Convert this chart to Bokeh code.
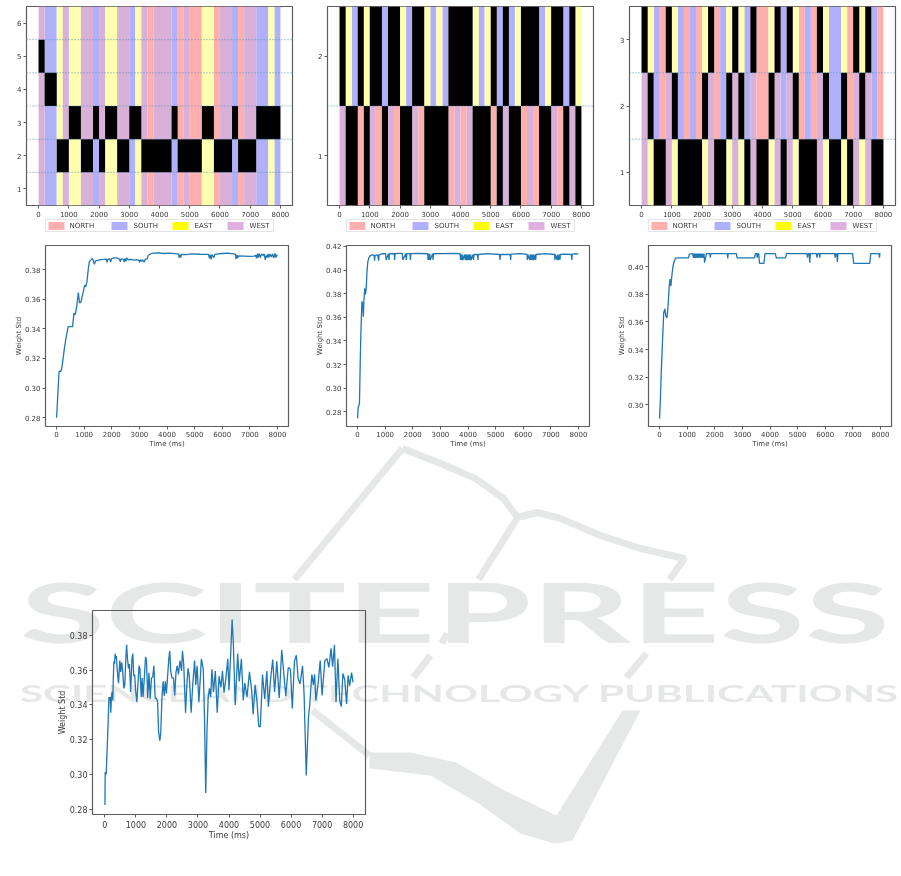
from bokeh.embed import file_html
from bokeh.resources import INLINE
from bokeh.plotting import figure
from bokeh.layouts import column
from bokeh.models import Span, FixedTicker, ColumnDataSource, NumeralTickFormatter
from bokeh.core.properties import value

DIRECTIONS = ["NORTH", "SOUTH", "EAST", "WEST"]
BAR_COLORS = {"NORTH": "#ffb0ae", "SOUTH": "#b0b0fb", "EAST": "#ffffb0", "WEST": "#d8b0d8"}
LEGEND_COLORS = {"NORTH": "#ffb0ae", "SOUTH": "#b0b0ff", "EAST": "#ffff00", "WEST": "#dfb0df"}
STEP_MS = 200
TIME_TICKS = [0, 1000, 2000, 3000, 4000, 5000, 6000, 7000, 8000]

dirs_a = list("WSSEWEEWWSWEEWWSEWNWWWSNWNNEENWWSNWWSSES")
active_a = [5,4,4,2,2,3,3,2,2,3,2,3,3,2,2,3,3,2,2,2,2,2,3,2,2,2,2,3,3,2,2,2,3,2,2,2,3,3,3,3]
rows_a = 6

dirs_b = list("WESNEWNSWNESWNESESNWNWESENSWSENWNSEWNSWE")
active_b = [2,1,1,2,1,2,2,1,2,2,1,1,2,2,1,1,1,1,2,2,2,2,1,1,1,2,1,2,1,1,2,2,2,1,1,2,2,1,2,1]
rows_b = 2

dirs_c = list("WESNWESNSNEWNSEWESWNNEWSWENSNWESSENWEWSN")
active_c = [3,2,1,1,3,2,1,1,1,1,2,3,1,1,2,3,2,1,3,1,1,2,3,1,3,2,1,1,1,3,2,1,1,2,1,3,2,3,1,1]
rows_c = 3

t1 = [0,30,60,90,120,150,190,230,290,350,420,500,580,630,680,740,790,830,880,950,1020,1060,1100,1150,1190,1250,1300,1340,1370,1420,1500,1600,1700,1810,1830,1850,1930,1960,1990,2080,2200,2280,2310,2340,2430,2450,2480,2510,2540,2600,2700,2800,2900,2980,3010,3040,3090,3120,3180,3210,3280,3320,3400,3500,3700,3900,4100,4350,4420,4440,4470,4500,4530,4700,4900,5200,5500,5540,5570,5600,5630,5700,5730,5850,6000,6200,6400,6480,6500,6530,6560,6590,6800,7000,7150,7220,7240,7270,7300,7330,7380,7420,7480,7520,7560,7590,7620,7660,7690,7730,7780,7820,7870,7910,7950,7990]
v1 = [.2800,.2900,.3005,.3110,.3115,.3110,.3135,.3190,.3275,.3345,.3415,.3415,.3415,.3505,.3495,.3565,.3645,.3575,.3580,.3635,.3695,.3685,.3715,.3805,.3855,.3865,.3875,.3855,.3835,.3860,.3862,.3867,.3868,.3870,.3846,.3868,.3872,.3850,.3872,.3878,.3878,.3870,.3852,.3872,.3868,.3850,.3875,.3855,.3878,.3866,.3868,.3864,.3866,.3862,.3848,.3866,.3855,.3865,.3850,.3870,.3872,.3895,.3905,.3910,.3912,.3908,.3910,.3905,.3905,.3878,.3900,.3882,.3902,.3900,.3905,.3903,.3902,.3875,.3900,.3868,.3900,.3880,.3902,.3905,.3908,.3910,.3905,.3903,.3872,.3898,.3878,.3892,.3890,.3888,.3890,.3895,.3875,.3905,.3880,.3908,.3880,.3905,.3895,.3905,.3865,.3895,.3880,.3905,.3880,.3905,.3885,.3905,.3878,.3908,.3880,.3902]

t2 = [0,20,50,70,100,120,140,160,190,210,230,260,290,320,340,370,410,470,550,600,617,635,730,762,780,900,1017,1035,1120,1138,1155,1330,1344,1360,1500,1622,1640,1750,1767,1785,1900,1913,1930,2200,2540,2554,2570,2600,2615,2630,2720,2736,2750,3100,3500,3715,3729,3745,3785,3800,3815,3885,3900,3915,3955,3970,3985,4015,4030,4045,4085,4100,4115,4185,4200,4215,4345,4360,4375,4700,5140,5157,5175,5530,5545,5560,5900,6135,6150,6165,6235,6250,6265,6285,6300,6315,6355,6370,6385,6435,6450,6465,6800,7135,7150,7165,7235,7250,7265,7315,7330,7345,7500,7745,7760,7775,7900,8000]
v2 = [.2745,.2835,.2855,.2875,.3260,.3450,.3605,.3735,.3705,.3605,.3745,.3845,.3795,.3865,.3985,.4065,.4105,.4125,.4128,.4125,.4080,.4125,.4128,.4080,.4130,.4138,.4138,.4085,.4138,.4085,.4138,.4140,.4085,.4140,.4142,.4142,.4085,.4140,.4085,.4140,.4140,.4085,.4140,.4142,.4138,.4085,.4138,.4085,.4138,.4085,.4138,.4085,.4138,.4140,.4142,.4138,.4085,.4132,.4085,.4132,.4085,.4132,.4085,.4132,.4085,.4132,.4085,.4132,.4085,.4132,.4085,.4132,.4085,.4132,.4085,.4132,.4132,.4085,.4132,.4140,.4132,.4085,.4132,.4132,.4085,.4135,.4140,.4132,.4085,.4132,.4085,.4132,.4085,.4132,.4085,.4132,.4085,.4132,.4085,.4132,.4085,.4132,.4140,.4132,.4085,.4132,.4085,.4132,.4085,.4132,.4085,.4132,.4135,.4132,.4085,.4135,.4140,.4135]

t3 = [0,30,60,90,120,150,190,230,270,310,350,380,410,440,480,530,580,700,850,1050,1080,1200,1230,1250,1270,1300,1320,1350,1370,1400,1420,1450,1470,1500,1520,1550,1570,1610,1630,1700,1825,1840,1855,2300,2455,2470,2485,2780,2810,3100,3440,3470,3520,3540,3560,3590,3620,3780,3820,4190,4230,4560,4600,5000,5340,5360,5380,5420,5440,5460,5680,5700,5720,5780,5800,5820,6340,6360,6380,6420,6440,6460,6960,6990,7030,7610,7650,7900,7950,7965,7980,8000]
v3 = [.2900,.3040,.3225,.3380,.3520,.3665,.3695,.3640,.3630,.3720,.3860,.3910,.3860,.3925,.3995,.4040,.4062,.4065,.4065,.4065,.4092,.4095,.4065,.4095,.4065,.4095,.4065,.4095,.4065,.4095,.4065,.4095,.4065,.4095,.4065,.4095,.4065,.4095,.4030,.4095,.4095,.4065,.4095,.4095,.4095,.4060,.4095,.4095,.4065,.4065,.4065,.4095,.4095,.4065,.4095,.4095,.4025,.4025,.4095,.4095,.4065,.4065,.4095,.4095,.4095,.4065,.4095,.4095,.4030,.4095,.4095,.4065,.4095,.4095,.4065,.4095,.4095,.4065,.4095,.4095,.4035,.4095,.4095,.4095,.4025,.4025,.4095,.4095,.4095,.4065,.4095,.4095]

t4 = [0,10,40,80,110,130,150,170,190,210,235,255,270,290,310,330,350,370,390,420,440,480,510,540,570,610,640,670,700,730,760,790,830,870,900,930,960,990,1030,1060,1100,1130,1170,1200,1230,1270,1310,1340,1380,1420,1460,1500,1540,1580,1620,1660,1700,1730,1770,1800,1840,1880,1910,1950,1980,2010,2060,2090,2120,2160,2210,2250,2290,2330,2370,2420,2470,2500,2540,2600,2640,2680,2720,2780,2830,2890,2930,2970,3030,3110,3170,3210,3250,3290,3330,3370,3410,3450,3500,3560,3620,3680,3740,3790,3840,3900,3960,4000,4060,4100,4140,4200,4280,4330,4400,4460,4510,4580,4660,4730,4780,4840,4900,4960,5010,5080,5150,5220,5270,5350,5410,5470,5540,5620,5700,5770,5830,5910,5980,6040,6110,6170,6230,6290,6370,6420,6490,6560,6600,6670,6720,6760,6800,6880,6940,7000,7090,7160,7220,7290,7340,7400,7450,7510,7570,7620,7670,7730,7790,7840,7890,7950,8000]
v4 = [.2825,.3015,.3000,.3180,.3330,.3445,.3425,.3445,.3355,.3450,.3475,.3425,.3550,.3650,.3635,.3695,.3665,.3680,.3620,.3555,.3525,.3655,.3590,.3645,.3600,.3495,.3515,.3650,.3745,.3660,.3610,.3635,.3475,.3660,.3695,.3565,.3575,.3485,.3415,.3505,.3625,.3605,.3445,.3555,.3445,.3555,.3675,.3655,.3440,.3585,.3435,.3555,.3560,.3625,.3435,.3440,.3415,.3245,.3195,.3235,.3455,.3535,.3450,.3535,.3465,.3535,.3665,.3710,.3595,.3555,.3555,.3455,.3585,.3625,.3575,.3655,.3595,.3710,.3635,.3355,.3510,.3610,.3565,.3355,.3515,.3655,.3515,.3625,.3415,.3665,.3605,.3335,.2895,.3250,.3445,.3495,.3445,.3605,.3475,.3595,.3355,.3565,.3500,.3595,.3470,.3555,.3665,.3485,.3715,.3890,.3755,.3400,.3695,.3535,.3665,.3425,.3525,.3445,.3590,.3485,.3345,.3515,.3425,.3275,.3275,.3575,.3435,.3595,.3390,.3565,.3660,.3475,.3650,.3440,.3715,.3575,.3450,.3615,.3605,.3380,.3650,.3685,.3550,.3520,.3625,.3465,.2995,.3325,.3395,.3575,.3515,.3575,.3425,.3535,.3655,.3455,.3655,.3665,.3615,.3725,.3620,.3745,.3415,.3665,.3425,.3390,.3580,.3545,.3405,.3570,.3510,.3585,.3530]

FONT = "DejaVu Sans"
INK = "#3a3a3a"
FRAME = "#5c5c5c"
WATERMARK = "#e6e8e7"


def place(fig, left, top, blur=True):
    styles = {"position": "absolute", "left": f"{left}px", "top": f"{top}px"}
    if blur:
        styles["filter"] = "blur(0.45px)"
    fig.styles = styles
    return fig


def chart(box, xr, yr, yticks, fmt_size="7px", mb=28):
    l, t, r, b = box
    ml, mt, mr = 44, 4, 6
    p = figure(width=r - l + ml + mr, height=b - t + mt + mb, x_range=xr, y_range=yr,
               output_backend="svg", toolbar_location=None, frame_align=False,
               min_border_left=ml, min_border_top=mt, min_border_right=mr, min_border_bottom=mb,
               background_fill_alpha=0, border_fill_alpha=0)
    place(p, l - ml, t - mt)
    p.grid.visible = False
    p.outline_line_color = FRAME
    p.outline_line_width = 1.2
    for ax in (p.xaxis[0], p.yaxis[0]):
        ax.axis_line_color = None
        ax.major_tick_in = 0
        ax.major_tick_out = 3
        ax.major_tick_line_color = FRAME
        ax.minor_tick_line_color = None
        ax.major_label_text_font = FONT
        ax.major_label_text_font_size = fmt_size
        ax.major_label_text_color = INK
        ax.major_label_standoff = 2
        ax.axis_label_text_font = FONT
        ax.axis_label_text_font_size = fmt_size
        ax.axis_label_text_font_style = "normal"
        ax.axis_label_text_color = INK
        ax.axis_label_standoff = 0
    p.xaxis.ticker = FixedTicker(ticks=TIME_TICKS)
    p.yaxis.ticker = FixedTicker(ticks=yticks)
    return p


def runs(flags):
    """Join neighbouring intervals so that no seam shows between them."""
    out, start = [], None
    for k, on in enumerate(flags + [False]):
        if on and start is None:
            start = k
        if not on and start is not None:
            out.append((start * STEP_MS, k * STEP_MS))
            start = None
    return out


def state_chart(box, dirs, active, rows):
    full = {"N": "NORTH", "S": "SOUTH", "E": "EAST", "W": "WEST"}
    p = chart(box, (-400, 8400), (0.5, rows + 0.5), list(range(1, rows + 1)), "7px", mb=28)
    for d in DIRECTIONS:
        spans = runs([full[c] == d for c in dirs])
        src = ColumnDataSource(dict(
            left=[s[0] for s in spans], right=[s[1] for s in spans],
            bottom=[0.5] * len(spans), top=[rows + 0.5] * len(spans)))
        p.quad(left="left", right="right", bottom="bottom", top="top", source=src,
               fill_color=BAR_COLORS[d], line_color=None)
    for row in range(1, rows + 1):
        spans = runs([a == row for a in active])
        if spans:
            p.quad(left=[s[0] for s in spans], right=[s[1] for s in spans],
                   bottom=[row - 0.5] * len(spans), top=[row + 0.5] * len(spans),
                   fill_color="#000000", line_color=None)
    for row in range(1, rows):
        p.add_layout(Span(location=row + 0.5, dimension="width", line_color="#4f8fb8",
                          line_dash="1 2", line_width=1))
    return p


def line_chart(box, t, v, yr, yticks, size="7px", standoff=1, ylabel_standoff=-1):
    p = chart(box, (-400, 8400), yr, yticks, size)
    p.line(t, v, line_color="#1f77b4", line_width=1.3)
    p.xaxis.axis_label = "Time (ms)"
    p.yaxis.axis_label = "Weight Std"
    p.yaxis.formatter = NumeralTickFormatter(format="0.00")
    p.yaxis.axis_label_standoff = ylabel_standoff
    p.xaxis.major_label_standoff = standoff
    return p


def blank(width, height, xmax, ymax):
    f = figure(width=width, height=height, x_range=(0, xmax), y_range=(ymax, 0),
               x_axis_type=None, y_axis_type=None, output_backend="svg", toolbar_location=None,
               frame_align=False,
               min_border_left=0, min_border_right=0, min_border_top=0, min_border_bottom=0,
               outline_line_color=None, background_fill_alpha=0, border_fill_alpha=0)
    return f


def legend_box(left, top):
    f = blank(229, 13, 229, 13)
    place(f, left, top)
    f.outline_line_color = "#e4e4e4"
    f.background_fill_color = "#ffffff"
    f.background_fill_alpha = 1
    patch_x = [3, 66, 127, 182]
    label_x = [24, 88, 149, 204]
    f.quad(left=patch_x, right=[x + 16 for x in patch_x], top=[2.5] * 4, bottom=[10.5] * 4,
           fill_color=[LEGEND_COLORS[d] for d in DIRECTIONS], line_color=None)
    f.text(x=label_x, y=[6.5] * 4, text=DIRECTIONS, text_font=value(FONT), text_font_size="7px",
           text_color=INK, text_align="left", text_baseline="middle")
    return f


# watermark artwork behind the charts
bg = blank(885, 860, 885, 860)
place(bg, 0, 0)
strokes_x = [[402, 294], [402, 440, 475, 503, 517, 537, 560, 600, 640, 684, 669], [516, 478], [447, 441], [430, 413], [646, 626], [312, 350, 369]]
strokes_y = [[448, 579], [448, 463, 478, 498, 517, 512, 518, 535, 548, 558, 579], [519, 579], [633, 643], [655, 677], [653, 677], [710, 740, 755]]
bg.multi_line(strokes_x, strokes_y, line_color=WATERMARK, line_width=7)
bg.patch([369, 410, 456, 502, 556, 622, 640, 572, 554, 520, 478, 430, 369],
         [752, 752, 762, 789, 815, 710, 710, 840, 843, 833, 803, 775, 768],
         fill_color=WATERMARK, line_color=None)

SCALE = 1.867
wm_w = round(885 / SCALE)
wm = blank(wm_w, 300, wm_w, 300)
wm.styles = {"position": "absolute", "left": "12px", "top": "560px", "filter": "blur(0.4px)",
             "transform": f"scaleX({SCALE})", "transform-origin": "0 0"}
wm.text(x=[2], y=[50], text=["SCITEPRESS"], text_font=value("Lato"), text_font_style="bold",
        text_font_size="83px", text_color=WATERMARK, text_align="left", text_baseline="alphabetic")
wm.text(x=[2], y=[133], text=["SCIENCE AND TECHNOLOGY PUBLICATIONS"], text_font=value("Lato"),
        text_font_style="bold", text_font_size="22.5px", text_color=WATERMARK, text_align="left",
        text_baseline="alphabetic")

boxes = [(26, 6, 292, 205), (327, 6, 593, 205), (629, 6, 895, 205)]
charts = [
    state_chart(boxes[0], dirs_a, active_a, rows_a),
    state_chart(boxes[1], dirs_b, active_b, rows_b),
    state_chart(boxes[2], dirs_c, active_c, rows_c),
    legend_box(45, 219), legend_box(346, 219), legend_box(648, 219),
    line_chart((45, 245, 288, 426), t1, v1, (0.2741, 0.3962), [.28, .30, .32, .34, .36, .38]),
    line_chart((346, 245, 589, 426), t2, v2, (0.2676, 0.4208), [.28, .30, .32, .34, .36, .38, .40, .42]),
    line_chart((648, 245, 891, 426), t3, v3, (0.2843, 0.4154), [.30, .32, .34, .36, .38, .40]),
    line_chart((92, 610, 365, 814), t4, v4, (0.2771, 0.3942), [.28, .30, .32, .34, .36, .38], "8px", 3, 0),
]

page = column(bg, wm, *charts, width=885, height=860)
open("out.html", "w").write(file_html(page, INLINE))
